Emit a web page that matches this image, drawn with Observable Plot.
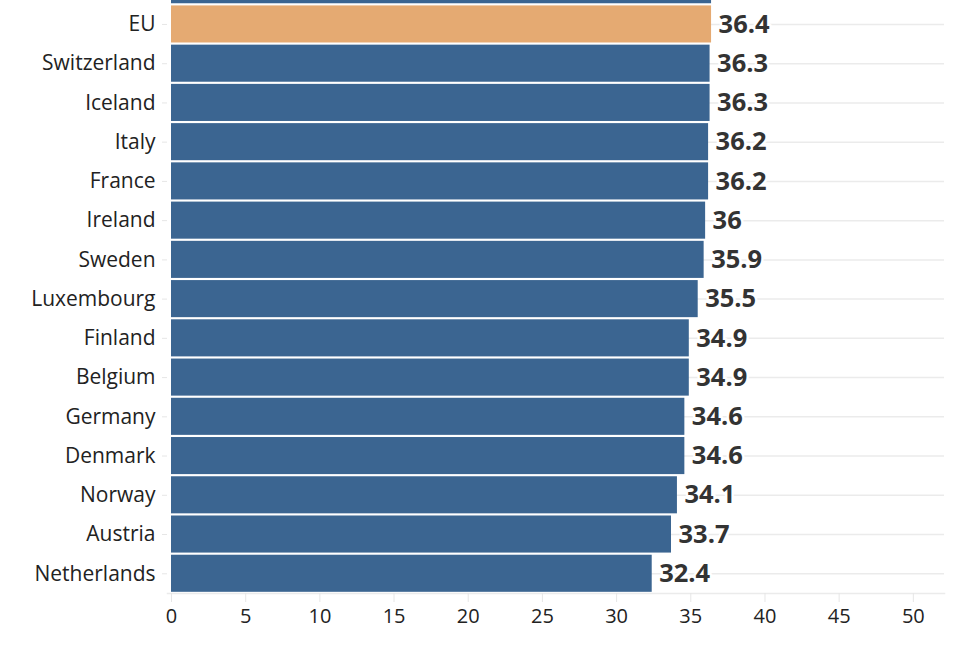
<!DOCTYPE html>
<html>
<head>
<meta charset="utf-8">
<script src="https://cdn.jsdelivr.net/npm/d3@7"></script>
<script src="https://cdn.jsdelivr.net/npm/@observablehq/plot@0.6"></script>
<style>
  html, body { margin: 0; padding: 0; background: #fff; overflow: hidden; }
  #chart { width: 966px; height: 646px; overflow: hidden; }
  #chart svg { display: block; margin-top: -54.7px; }
</style>
</head>
<body>
<div id="chart"></div>
<script>
// Row above "EU" is cut off at the top of the picture (its label is not visible)
const countries = ["", "EU", "Switzerland", "Iceland", "Italy", "France", "Ireland", "Sweden",
  "Luxembourg", "Finland", "Belgium", "Germany", "Denmark", "Norway", "Austria", "Netherlands"];
const values = [36.4, 36.4, 36.3, 36.3, 36.2, 36.2, 36, 35.9, 35.5, 34.9, 34.9, 34.6, 34.6, 34.1, 33.7, 32.4];
const highlight = ["EU"];
const xTicks = [0, 5, 10, 15, 20, 25, 30, 35, 40, 45, 50];
const xMax = 52.1;

const data = countries.map((c, i) => ({country: c, value: values[i]}));
const visible = data.filter(d => d.country !== "");

const chart = Plot.plot({
  width: 966,
  height: 708.2,
  marginTop: 20,
  marginBottom: 60.2,
  marginLeft: 167,
  marginRight: 22,
  style: {fontFamily: "'Open Sans', 'Noto Sans', sans-serif", fontSize: "20px", color: "#222", background: "#fff"},
  x: {domain: [0, xMax], insetLeft: 4, ticks: xTicks, label: null},
  y: {domain: countries, paddingInner: 0.055, paddingOuter: 0.03, round: false, label: null},
  marks: [
    Plot.ruleY(countries, {y: d => d, x1: 0, x2: xMax, stroke: "#ebebeb", strokeWidth: 1.5}),
    Plot.frame({anchor: "bottom", stroke: "#ebebeb", strokeWidth: 1.5}),
    Plot.barX(data, {
      y: "country", x: "value",
      fill: d => highlight.includes(d.country) ? "#e5aa72" : "#3b6591"
    }),
    Plot.text(visible, {
      y: "country", x: "value", text: d => String(d.value),
      textAnchor: "start", dx: 7, fontSize: 25.5, fontWeight: "bold", fill: "#333",
      stroke: "white", strokeWidth: 5
    }),
    Plot.axisX({ticks: xTicks, tickSize: 9, tickPadding: 6, stroke: "#e6e6e6", fill: "#222", fontSize: 20, label: null}),
    Plot.axisY({tickSize: 5, tickPadding: 7, stroke: "#e6e6e6", fill: "#222", fontSize: 21, label: null})
  ]
});
document.getElementById("chart").appendChild(chart);
</script>
</body>
</html>
